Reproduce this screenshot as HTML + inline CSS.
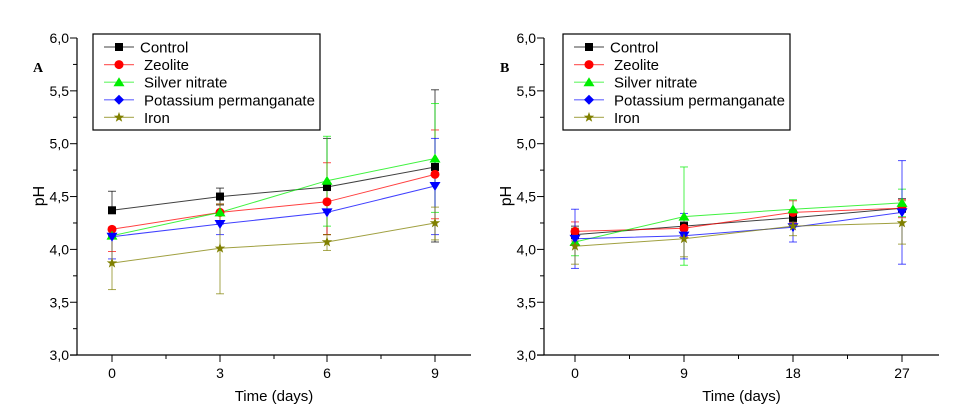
<!DOCTYPE html>
<html><head><meta charset="utf-8"><style>
html,body{margin:0;padding:0;background:#fff;width:969px;height:420px;overflow:hidden}
svg text{font-family:"Liberation Sans",Arial,sans-serif}
</style></head><body>
<svg id="s" width="969" height="420" xmlns="http://www.w3.org/2000/svg"></svg>
<script>
const S=document.getElementById('s');let h='';
const cols=['#000000','#ff0000','#00ee00','#0000ff','#808000'];
const names=['Control','Zeolite','Silver nitrate','Potassium permanganate','Iron'];
function marker(i,x,y,r){const c=cols[i];r=r||4.5;
 if(i==0)return `<rect x="${x-4}" y="${y-4}" width="8" height="8" fill="${c}"/>`;
 if(i==1)return `<circle cx="${x}" cy="${y}" r="${r}" fill="${c}"/>`;
 if(i==2)return `<polygon points="${x},${y-5} ${x+5.5},${y+4} ${x-5.5},${y+4}" fill="${c}"/>`;
 if(i==3)return r=='leg'?`<polygon points="${x},${y-5} ${x+5},${y} ${x},${y+5} ${x-5},${y}" fill="${c}"/>`:`<polygon points="${x},${y+5} ${x+5.5},${y-4} ${x-5.5},${y-4}" fill="${c}"/>`;
 let p=[];for(let k=0;k<10;k++){const a=-Math.PI/2+k*Math.PI/5,rr=k%2?2.2:5.5;p.push((x+rr*Math.cos(a)).toFixed(1)+','+(y+rr*Math.sin(a)).toFixed(1));}
 return `<polygon points="${p.join(' ')}" fill="${c}"/>`;}
function panel(ax,xe,xt,labs,data,errs,lx,letter){
 const Y=v=>38+(6-v)*105.7;
 h+=`<line x1="${ax}" y1="38" x2="${ax}" y2="355" stroke="#000" stroke-width="1.2"/>`;
 h+=`<line x1="${ax-7}" y1="355" x2="${xe}" y2="355" stroke="#000" stroke-width="1.2"/>`;
 for(let k=0;k<=12;k++){const v=3+k*0.25,y=Y(v),maj=k%2==0;
  h+=`<line x1="${ax-(maj?7:4)}" y1="${y}" x2="${ax}" y2="${y}" stroke="#000"/>`;
  if(maj)h+=`<text x="${ax-8}" y="${y+5}" font-size="14" text-anchor="end">${v.toFixed(1).replace('.',',')}</text>`;}
 const dx=xt[1]-xt[0];
 for(let k=0;k<4;k++){h+=`<line x1="${xt[k]}" y1="355" x2="${xt[k]}" y2="362" stroke="#000"/>`;
  h+=`<text x="${xt[k]}" y="378" font-size="14" text-anchor="middle">${labs[k]}</text>`;
  const m=xt[k]+dx/2;if(m<xe)h+=`<line x1="${m}" y1="355" x2="${m}" y2="359" stroke="#000"/>`;}
 h+=`<text x="${(ax+xe)/2}" y="401" font-size="15" text-anchor="middle">Time (days)</text>`;
 h+=`<text transform="translate(${ax-33},196) rotate(-90)" font-size="16" text-anchor="middle">pH</text>`;
 h+=`<text x="${ax-44}" y="72" style="font-family:'Liberation Serif',serif;font-size:14px;font-weight:bold">${letter}</text>`;
 errs.forEach((e,i)=>e.forEach((p,k)=>{if(!p)return;const x=xt[k];
  h+=`<line x1="${x}" y1="${Y(p[0])}" x2="${x}" y2="${Y(p[1])}" stroke="${cols[i]}" stroke-opacity="0.7"/>`;
  [p[0],p[1]].forEach(v=>h+=`<line x1="${x-4}" y1="${Y(v)}" x2="${x+4}" y2="${Y(v)}" stroke="${cols[i]}" stroke-opacity="0.7"/>`);}));
 data.forEach((d,i)=>{h+=`<polyline points="${d.map((v,k)=>xt[k]+','+Y(v).toFixed(1)).join(' ')}" fill="none" stroke="${cols[i]}" stroke-opacity="0.75"/>`;});
 data.forEach((d,i)=>d.forEach((v,k)=>h+=marker(i,xt[k],Y(v))));
 h+=`<rect x="${lx}" y="34" width="227" height="96" fill="#fff" stroke="#000" stroke-width="1.2"/>`;
 names.forEach((n,i)=>{const y=47+i*17.6;
  h+=`<line x1="${lx+11}" y1="${y}" x2="${lx+41}" y2="${y}" stroke="${cols[i]}" stroke-opacity="0.6" stroke-width="1.2"/>`;
  h+=marker(i,lx+26,y,i==3?'leg':4.5);
  h+=`<text x="${lx+(i?51:47)}" y="${y+5.5}" font-size="15">${n}</text>`;});
}
panel(77,471,[112,220,327,435],['0','3','6','9'],
 [[4.37,4.50,4.59,4.78],[4.19,4.35,4.45,4.71],[4.13,4.35,4.65,4.86],[4.12,4.24,4.35,4.60],[3.87,4.01,4.07,4.25]],
 [[[4.55,4.37],[4.58,4.42],[5.05,4.14],[5.51,4.07]],[[3.98,4.19],[4.43,4.27],[4.82,4.14],[5.13,4.29]],[[4.13,4.13],[4.35,4.35],[5.07,4.22],[5.38,4.35]],[[3.91,4.12],[4.24,4.14],[4.38,4.35],[5.05,4.14]],[[3.62,4.12],[3.58,4.43],[3.99,4.14],[4.09,4.40]]],93,'A');
panel(544,939,[575,684,793,902],['0','9','18','27'],
 [[4.14,4.22,4.30,4.39],[4.17,4.20,4.35,4.39],[4.07,4.31,4.38,4.44],[4.10,4.13,4.21,4.35],[4.03,4.10,4.22,4.25]],
 [[[4.10,4.22],[4.18,4.26],[4.26,4.34],[4.35,4.48]],[[4.26,4.08],[4.28,4.12],[4.46,4.25],[4.30,4.47]],[[3.94,4.20],[4.78,3.85],[4.47,4.30],[4.57,4.31]],[[4.38,3.82],[4.34,3.91],[4.07,4.35],[4.84,3.86]],[[3.86,4.20],[3.93,4.28],[4.13,4.30],[4.05,4.46]]],563,'B');
S.innerHTML=h;
</script>
</body></html>
